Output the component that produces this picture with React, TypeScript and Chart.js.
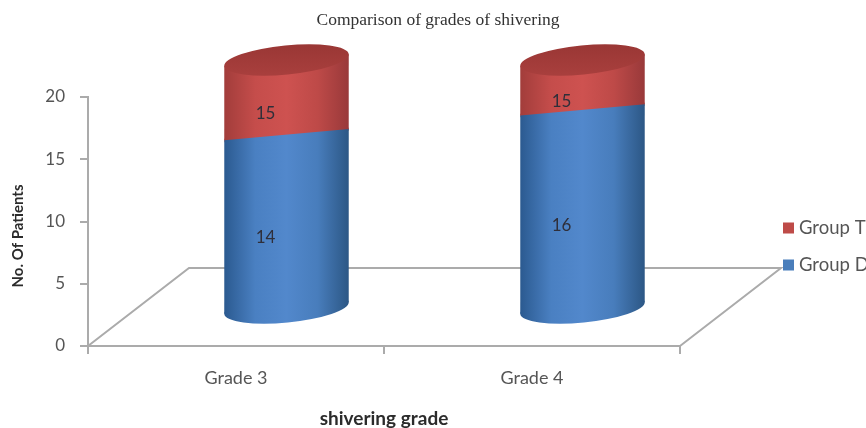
import React, { useEffect, useRef } from "react";
import { Chart, registerables } from "chart.js";

Chart.register(...registerables);

const categories = ["Grade 3", "Grade 4"];
const groupD = [14, 16];
const groupT = [15, 15];
const axisTicks = [0, 5, 10, 15, 20];

const AXIS_GREY = "#ABABAB";
const TEXT_GREY = "#555555";
const FONT = "Lato, 'Open Sans', sans-serif";

// Bars stand in the middle of a 3D floor: this is their shift from the front axis.
const BAR_SHIFT_X = 50.5;
const BAR_SHIFT_Y = 37;
const FLOOR_DEPTH_X = 101;
const FLOOR_DEPTH_Y = 78;
const CAP_RY = 14.5;
const TILT = (-5.5 * Math.PI) / 180;

const SHADES: Record<string, string[]> = {
  "Group D": ["#2B5A90", "#4A80C2", "#5288CC", "#487DBC", "#2C5785"],
  "Group T": ["#A23D3B", "#C54D4B", "#CE5250", "#BE4A48", "#99393A"],
};

function tangentOffset(rx: number, ry: number) {
  const t = Math.atan((-ry / rx) * Math.tan(TILT));
  return {
    dx: rx * Math.cos(t) * Math.cos(TILT) - ry * Math.sin(t) * Math.sin(TILT),
    dy: rx * Math.cos(t) * Math.sin(TILT) + ry * Math.sin(t) * Math.cos(TILT),
  };
}

function drawSegment(
  ctx: CanvasRenderingContext2D,
  cx: number,
  bottom: number,
  top: number,
  rx: number,
  stops: string[],
) {
  const { dx, dy } = tangentOffset(rx, CAP_RY);
  const grad = ctx.createLinearGradient(cx - dx, 0, cx + dx, 0);
  stops.forEach((c, i) => grad.addColorStop(i / (stops.length - 1), c));
  ctx.fillStyle = grad;
  ctx.beginPath();
  ctx.moveTo(cx - dx, top - dy);
  ctx.lineTo(cx + dx, top + dy);
  ctx.lineTo(cx + dx, bottom + dy);
  ctx.lineTo(cx - dx, bottom - dy);
  ctx.closePath();
  ctx.fill();
  ctx.beginPath();
  ctx.ellipse(cx, bottom, rx, CAP_RY, TILT, 0, Math.PI * 2);
  ctx.fill();
}

const scenePlugin = {
  id: "cylinderScene",
  // Floor of the 3D box, behind the bars.
  beforeDatasetsDraw(chart: any) {
    const { ctx, chartArea } = chart;
    const y0 = chart.scales.y.getPixelForValue(0);
    ctx.save();
    ctx.strokeStyle = AXIS_GREY;
    ctx.lineWidth = 2;
    ctx.beginPath();
    ctx.moveTo(chartArea.left, y0);
    ctx.lineTo(chartArea.left + FLOOR_DEPTH_X, y0 - FLOOR_DEPTH_Y);
    ctx.lineTo(chartArea.right + FLOOR_DEPTH_X, y0 - FLOOR_DEPTH_Y);
    ctx.lineTo(chartArea.right, y0);
    ctx.stroke();
    ctx.restore();
  },
  // Each bar element supplies its own position; the default box is replaced by a cylinder.
  beforeDatasetDraw(chart: any, args: any) {
    const { ctx, chartArea } = chart;
    const ds = chart.data.datasets[args.index];
    const stops = SHADES[ds.label];
    ctx.save();
    args.meta.data.forEach((bar: any) => {
      const cx = bar.x + BAR_SHIFT_X;
      const rx = bar.width / 2;
      const clippedTop = Math.max(bar.y, chartArea.top);
      const bottom = bar.base - BAR_SHIFT_Y;
      const top = clippedTop - BAR_SHIFT_Y;
      drawSegment(ctx, cx, bottom, top, rx, stops);
      if (bar.y <= chartArea.top) {
        const cap = ctx.createLinearGradient(0, top - CAP_RY, 0, top + CAP_RY);
        cap.addColorStop(0, "#9A3735");
        cap.addColorStop(1, "#A83F3D");
        ctx.fillStyle = cap;
        ctx.beginPath();
        ctx.ellipse(cx, top, rx, CAP_RY, TILT, 0, Math.PI * 2);
        ctx.fill();
      }
    });
    ctx.restore();
    return false;
  },
  afterDatasetsDraw(chart: any) {
    const { ctx, chartArea } = chart;
    ctx.save();
    // Value labels sit left of each segment's middle.
    ctx.font = `17px ${FONT}`;
    ctx.fillStyle = "#2F2F3A";
    ctx.textAlign = "center";
    ctx.textBaseline = "middle";
    chart.data.datasets.forEach((ds: any, d: number) => {
      chart.getDatasetMeta(d).data.forEach((bar: any, i: number) => {
        const top = Math.max(bar.y, chartArea.top);
        const mid = (top + bar.base) / 2 - BAR_SHIFT_Y + 16.5;
        ctx.fillText(String(ds.data[i]), bar.x + BAR_SHIFT_X - 21, mid);
      });
    });
    // Rotated axis name.
    ctx.save();
    ctx.translate(18, 236);
    ctx.rotate(-Math.PI / 2);
    ctx.font = `bold 15px ${FONT}`;
    ctx.fillStyle = "#2B2B2B";
    ctx.fillText("No. Of Patients", 0, 0);
    ctx.restore();
    // Legend, last series first.
    ctx.font = `18.5px ${FONT}`;
    ctx.textAlign = "left";
    [...chart.data.datasets].reverse().forEach((ds: any, i: number) => {
      const y = 228 + i * 37;
      ctx.fillStyle = ds.backgroundColor;
      ctx.fillRect(783, y - 5.5, 11, 11);
      ctx.fillStyle = TEXT_GREY;
      ctx.fillText(ds.label, 799, y);
    });
    ctx.restore();
  },
};

export default function App() {
  const ref = useRef<HTMLCanvasElement>(null);
  useEffect(() => {
    const chart = new Chart(ref.current!, {
      type: "bar",
      data: {
        labels: categories,
        datasets: [
          { label: "Group D", data: groupD, backgroundColor: "#4A7EBB" },
          { label: "Group T", data: groupT, backgroundColor: "#BE4B48" },
        ],
      },
      plugins: [scenePlugin],
      options: {
        responsive: false,
        animation: false,
        layout: { padding: { left: 10, right: 0, top: 0, bottom: 0 } },
        datasets: { bar: { categoryPercentage: 1, barPercentage: 0.4223 } },
        plugins: {
          legend: { display: false },
          tooltip: { enabled: false },
          title: {
            display: true,
            text: "Comparison of grades of shivering",
            color: "#333333",
            font: { family: "'Liberation Serif', serif", size: 17.5, weight: "normal" },
            padding: { top: 9.5, bottom: 66.5 },
          },
        },
        scales: {
          x: {
            stacked: true,
            grid: { display: true, drawOnChartArea: false, tickLength: 8, color: AXIS_GREY, lineWidth: 2 },
            border: { color: AXIS_GREY, width: 2 },
            ticks: { color: TEXT_GREY, font: { family: FONT, size: 18 }, padding: 13 },
            title: {
              display: true,
              text: "shivering grade",
              color: "#2B2B2B",
              font: { family: FONT, size: 19, weight: "bold" },
              padding: { top: 0, bottom: -2 },
            },
            afterFit: (s: any) => {
              s.height = 82;
            },
          },
          y: {
            stacked: true,
            min: 0,
            max: 20,
            afterBuildTicks: (s: any) => {
              s.ticks = axisTicks.map((value) => ({ value }));
            },
            grid: { display: true, drawOnChartArea: false, tickLength: 8, color: AXIS_GREY, lineWidth: 2 },
            border: { color: AXIS_GREY, width: 2 },
            ticks: { color: TEXT_GREY, font: { family: FONT, size: 17 }, padding: 15 },
            afterFit: (s: any) => {
              s.width = 78;
            },
          },
          // Empty right-hand band that keeps the legend clear of the plot.
          side: {
            type: "linear",
            position: "right",
            grid: { display: false },
            border: { display: false },
            ticks: { display: false },
            afterFit: (s: any) => {
              s.width = 186;
            },
          },
        },
      },
    } as any);
    return () => chart.destroy();
  }, []);
  return (
    <div style={{ position: "absolute", left: 0, top: 0, width: 866, height: 428, overflow: "hidden", background: "#fff" }}>
      <canvas ref={ref} width={866} height={428} style={{ display: "block" }} />
    </div>
  );
}
